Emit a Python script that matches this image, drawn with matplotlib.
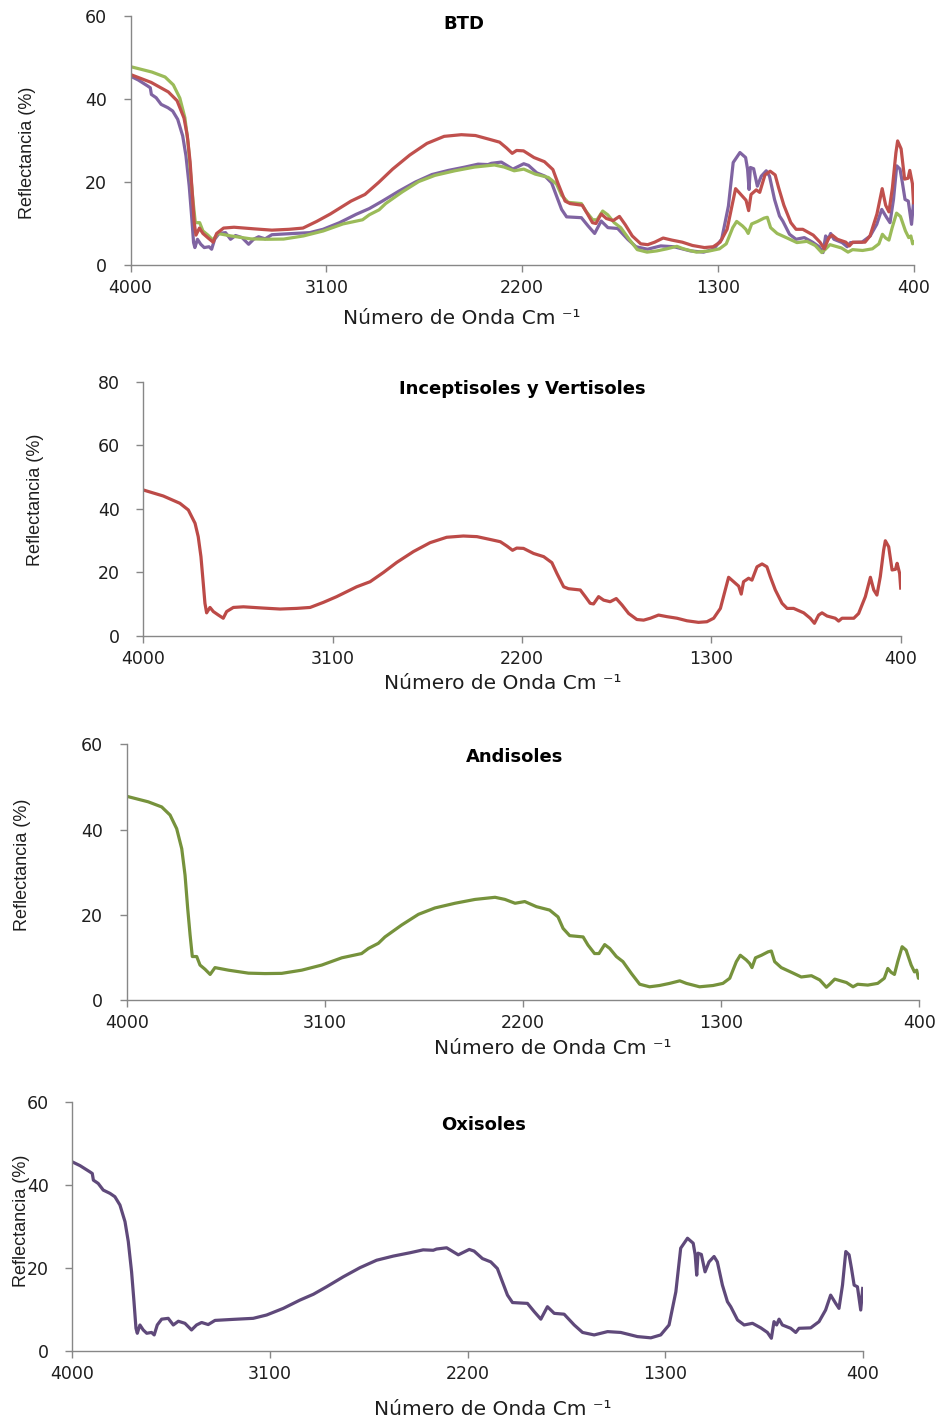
import matplotlib
matplotlib.use("Agg")
import matplotlib.pyplot as plt
from matplotlib import font_manager

# Spectral reflectance of soil groups (wavenumber in cm-1, reflectance in %)
wn_incept = [4000, 3905, 3826, 3786, 3754, 3739, 3726, 3715, 3707, 3699, 3683, 3667,
             3643, 3620, 3604, 3572, 3524, 3429, 3350, 3271, 3207, 3144, 3081, 2986,
             2922, 2859, 2795, 2716, 2637, 2558, 2479, 2414, 2351, 2303, 2271, 2245,
             2225, 2193, 2145, 2097, 2058, 2034, 2002, 1979, 1923, 1899, 1876, 1860,
             1836, 1812, 1781, 1752, 1725, 1693, 1654, 1622, 1590, 1551, 1511, 1463,
             1416, 1361, 1321, 1289, 1257, 1234, 1218, 1194, 1170, 1158, 1147, 1123,
             1107, 1083, 1059, 1036, 1020, 996, 964, 940, 909, 861, 830, 810, 790,
             774, 750, 711, 695, 679, 623, 600, 568, 544, 528, 513, 497, 481, 473,
             457, 441, 425, 417, 405, 400]
refl_incept = [45.9, 44.0, 41.7, 39.6, 35.4, 31.2, 24.9, 16.5, 10.2, 7.2, 8.9, 7.6,
               6.5, 5.5, 7.6, 8.9, 9.1, 8.7, 8.4, 8.6, 8.9, 10.5, 12.3, 15.4,
               17.0, 19.9, 23.1, 26.5, 29.3, 31.0, 31.4, 31.2, 30.3, 29.6, 28.2, 26.9,
               27.6, 27.5, 25.9, 24.9, 23.0, 19.6, 15.4, 14.8, 14.4, 12.3, 10.2, 10.0,
               12.3, 11.2, 10.7, 11.7, 9.7, 7.0, 5.1, 4.9, 5.5, 6.5, 6.0, 5.5,
               4.7, 4.2, 4.4, 5.5, 8.6, 14.4, 18.4, 17.0, 15.6, 13.1, 17.0, 18.1,
               17.5, 21.7, 22.6, 21.7, 18.6, 14.4, 10.2, 8.6, 8.6, 7.2, 5.5, 3.9, 6.5,
               7.2, 6.2, 5.5, 4.6, 5.5, 5.5, 7.0, 12.3, 18.4, 14.4, 12.8, 18.6, 27.0, 29.9,
               28.0, 20.7, 20.9, 22.8, 19.6, 15.0]

wn_andi = [4000, 3902, 3841, 3803, 3773, 3750, 3735, 3723, 3712, 3702, 3682, 3667,
           3644, 3621, 3599, 3538, 3447, 3372, 3296, 3205, 3114, 3023, 2933, 2902,
           2857, 2827, 2751, 2675, 2600, 2509, 2418, 2327, 2282, 2236, 2192, 2139,
           2079, 2041, 2018, 1988, 1927, 1905, 1875, 1855, 1829, 1806, 1776, 1746,
           1708, 1670, 1625, 1580, 1534, 1488, 1458, 1398, 1337, 1292, 1261, 1231,
           1213, 1186, 1171, 1160, 1144, 1117, 1087, 1072, 1057, 1027, 981, 936,
           890, 852, 822, 807, 784, 731, 701, 680, 634, 589, 559, 543, 528, 513,
           498, 478, 460, 437, 422, 412, 404, 400]
refl_andi = [47.8, 46.5, 45.3, 43.4, 40.2, 35.5, 29.3, 21.5, 15.2, 10.2, 10.2, 8.2,
             7.2, 6.0, 7.6, 7.0, 6.3, 6.2, 6.25, 7.0, 8.2, 9.9, 10.9, 12.1,
             13.3, 14.8, 17.6, 20.1, 21.6, 22.7, 23.6, 24.1, 23.6, 22.7, 23.1, 21.9,
             21.1, 19.5, 16.8, 15.1, 14.8, 12.9, 10.9, 10.9, 13.0, 12.1, 10.2, 9.0,
             6.25, 3.7, 3.1, 3.4, 3.9, 4.5, 3.9, 3.1, 3.4, 3.9, 5.1, 9.0,
             10.5, 9.4, 8.6, 7.6, 9.9, 10.5, 11.3, 11.5, 9.0, 7.6, 6.5, 5.4,
             5.7, 4.7, 3.0, 3.7, 4.9, 4.1, 3.1, 3.7, 3.5, 3.9, 5.1, 7.4, 6.5, 6.0,
             9.0, 12.5, 11.7, 8.2, 6.6, 7.0, 5.1, 5.5]

wn_oxi = [4000, 3965, 3920, 3909, 3904, 3882, 3859, 3828, 3806, 3783, 3760, 3745,
          3730, 3719, 3710, 3704, 3692, 3677, 3661, 3639, 3627, 3613, 3593, 3563,
          3540, 3517, 3487, 3457, 3434, 3411, 3381, 3350, 3267, 3176, 3115, 3039,
          2963, 2902, 2842, 2766, 2690, 2614, 2538, 2462, 2402, 2356, 2341, 2295,
          2242, 2192, 2170, 2132, 2094, 2064, 2041, 2018, 1995, 1927, 1896, 1866,
          1836, 1805, 1760, 1714, 1676, 1623, 1562, 1502, 1426, 1365, 1320, 1282,
          1251, 1229, 1198, 1172, 1163, 1156, 1150, 1135, 1118, 1100, 1077, 1062,
          1039, 1016, 1001, 970, 940, 902, 864, 834, 816, 804, 792, 781, 766,
          728, 705, 690, 637, 599, 569, 546, 523, 508, 492, 477, 462, 451, 439,
          424, 409, 400]
refl_oxi = [45.5, 44.6, 43.1, 42.7, 41.1, 40.3, 38.7, 37.9, 37.1, 35.1, 31.1, 26.3,
            19.0, 11.8, 5.4, 4.2, 6.2, 5.0, 4.2, 4.4, 3.8, 6.2, 7.6, 7.8,
            6.2, 7.1, 6.6, 5.0, 6.2, 6.8, 6.3, 7.3, 7.55, 7.8, 8.6, 10.2,
            12.2, 13.6, 15.4, 17.8, 20.0, 21.8, 22.8, 23.6, 24.3, 24.2, 24.5, 24.8,
            23.1, 24.4, 24.0, 22.2, 21.4, 19.8, 16.6, 13.4, 11.6, 11.4, 9.4, 7.6,
            10.6, 9.0, 8.8, 6.2, 4.4, 3.8, 4.6, 4.4, 3.4, 3.1, 3.8, 6.2,
            14.2, 24.7, 27.1, 25.9, 23.1, 18.2, 23.5, 23.2, 19.0, 21.4, 22.7, 21.4,
            15.8, 11.8, 10.6, 7.4, 6.2, 6.6, 5.5, 4.4, 3.0, 7.0, 6.2, 7.6, 6.2,
            5.4, 4.4, 5.4, 5.5, 7.0, 9.8, 13.4, 11.4, 10.2, 15.8, 23.9, 23.1, 19.8, 15.8,
            15.4, 9.8, 15.0]

x_ticks = [4000, 3100, 2200, 1300, 400]
titles = ["BTD", "Inceptisoles y Vertisoles", "Andisoles", "Oxisoles"]
y_max = [60, 80, 60, 60]
x_label = "Número de Onda Cm ⁻¹"
y_label = "Reflectancia (%)"

# Fonts
names = {f.name for f in font_manager.fontManager.ttflist}
if "Liberation Sans Narrow" in names:
    ylab_family, ylab_size = "Liberation Sans Narrow", 15.5
else:
    ylab_family, ylab_size = "Liberation Sans", 13
plt.rcParams["font.family"] = ["DejaVu Sans"]

W, H = 943, 1423
fig = plt.figure(figsize=(W / 100, H / 100), dpi=100)

# Axes rectangles in pixels: left, right, top, bottom
boxes = [
    (130.5, 913.5, 16.0, 265.0),
    (143.3, 900.7, 381.7, 635.7),
    (126.7, 919.3, 744.3, 1000.0),
    (72.3, 862.7, 1101.7, 1350.7),
]
title_pos = [(0.426, 0.968), (0.500, 0.971), (0.490, 0.950), (0.520, 0.906)]
xlabel_pos = [(0.423, -0.213), (0.474, -0.190), (0.537, -0.188), (0.532, -0.238)]
ylabel_pos = [(-0.131, 0.450), (-0.142, 0.534), (-0.132, 0.528), (-0.064, 0.521)]

spine_col = "#878787"
text_col = "#1e1e1e"

col_red = "#C0504D"
col_green = "#9BBB59"
col_purple = "#8064A2"

axes = []
for (l, r, t, b) in boxes:
    ax = fig.add_axes([l / W, 1 - b / H, (r - l) / W, (b - t) / H])
    axes.append(ax)

# Panel contents
axes[0].plot(wn_oxi, refl_oxi, color=col_purple, lw=2.3, solid_joinstyle="round")
axes[0].plot(wn_andi, refl_andi, color=col_green, lw=2.3, solid_joinstyle="round")
axes[0].plot(wn_incept, refl_incept, color=col_red, lw=2.3, solid_joinstyle="round")
axes[1].plot(wn_incept, refl_incept, color="#BC4A47", lw=2.3, solid_joinstyle="round")
axes[2].plot(wn_andi, refl_andi, color="#76923C", lw=2.3, solid_joinstyle="round")
axes[3].plot(wn_oxi, refl_oxi, color="#5F497A", lw=2.3, solid_joinstyle="round")

for i, ax in enumerate(axes):
    ax.set_xlim(4000, 400)
    ax.set_ylim(0, y_max[i])
    ax.set_xticks(x_ticks)
    ax.set_yticks(range(0, y_max[i] + 1, 20))
    for s in ("top", "right"):
        ax.spines[s].set_visible(False)
    for s in ("left", "bottom"):
        ax.spines[s].set_color(spine_col)
        ax.spines[s].set_linewidth(1.0)
    ax.tick_params(axis="both", direction="out", length=5, width=1.0,
                   color=spine_col, labelcolor=text_col, labelsize=12.5)
    ax.tick_params(axis="x", pad=5)
    ax.tick_params(axis="y", pad=12)
    ax.text(*title_pos[i], titles[i], transform=ax.transAxes, ha="center",
            va="center", fontsize=13, fontweight="bold", color="black")
    ax.text(*xlabel_pos[i], x_label, transform=ax.transAxes, ha="center",
            va="center", fontsize=14.5, color=text_col)
    ax.text(*ylabel_pos[i], y_label, transform=ax.transAxes, ha="center",
            va="center", rotation=90, fontsize=ylab_size, color=text_col,
            family=ylab_family)

fig.savefig("out.png", dpi=100, facecolor="white")
